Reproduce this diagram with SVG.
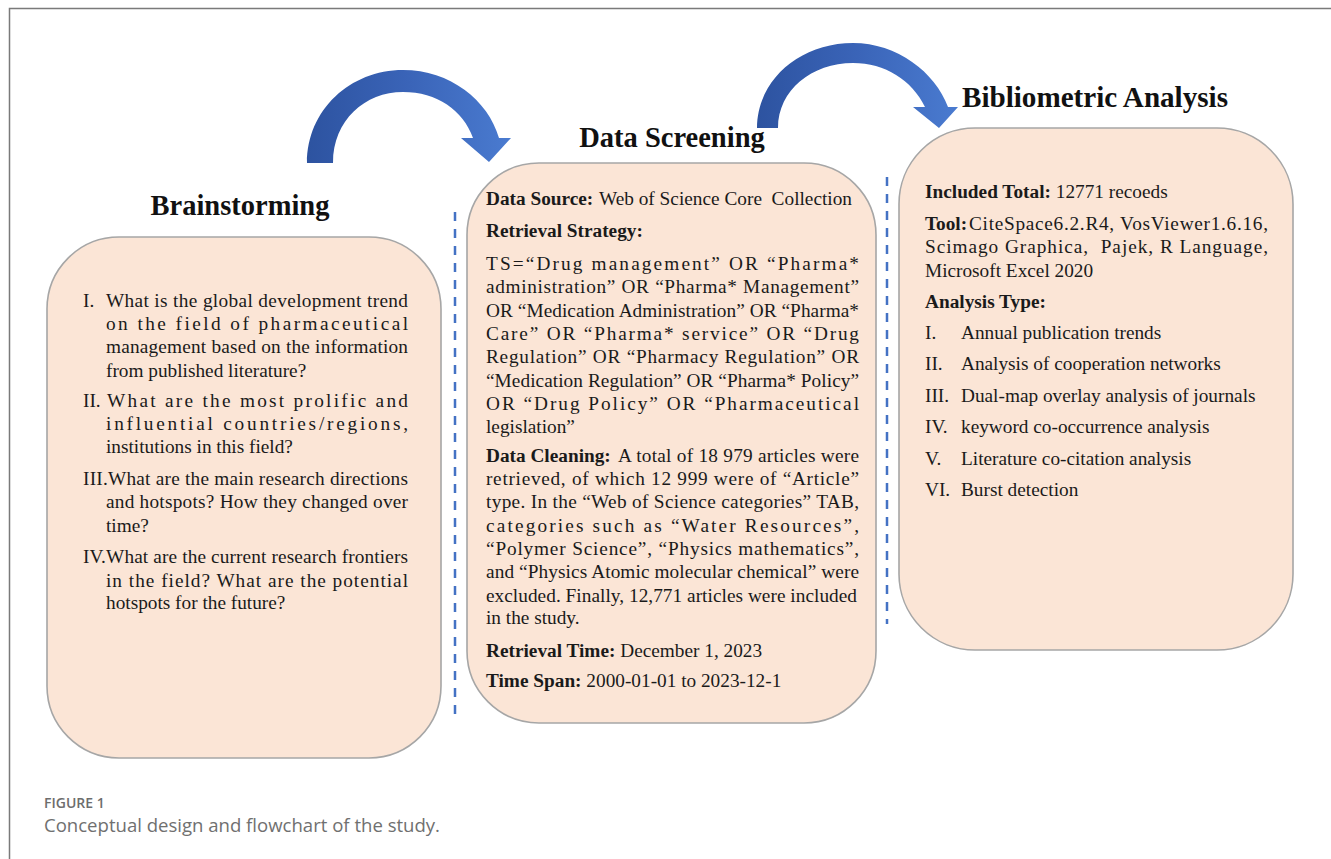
<svg xmlns="http://www.w3.org/2000/svg" width="1331" height="859" viewBox="0 0 1331 859">
<style>
.box{fill:#fbe5d6;stroke:#a6a6a6;stroke-width:1.6}
.title{font-family:"Liberation Serif","Times New Roman",serif;font-weight:bold;font-size:28.5px;fill:#111}
.t{font-family:"Liberation Serif","Times New Roman",serif;font-size:19.3px;fill:#1a1a1a}
.b{font-weight:bold}
.dash{stroke:#4472c4;stroke-width:2.5;stroke-dasharray:9 8;fill:none}
.cap1{font-family:"Open Sans","Liberation Sans",sans-serif;font-size:14px;font-weight:600;fill:#6d6d6d}
.cap2{font-family:"Open Sans","Liberation Sans",sans-serif;font-size:18px;fill:#707070}
</style>
<defs>
<linearGradient id="ag" x1="0" y1="0" x2="1" y2="0">
<stop offset="0" stop-color="#2d53a0"/>
<stop offset="0.5" stop-color="#3a64b8"/>
<stop offset="1" stop-color="#4a7bd0"/>
</linearGradient>
</defs>
<rect width="1331" height="859" fill="#ffffff"/>
<path d="M9.5,859 V8.5 H1331" fill="none" stroke="#7a7a7a" stroke-width="1.5"/>

<g id="connectors">
<path d="M307,163 C307,110 350,70 403,70 C450,70 488,100 499,138 L511,138 L489,162 L461,138 L473,138 C463,110 437,92 403,92 C365,92 333,120 333,163 Z" fill="url(#ag)"/>
<path d="M757,128 C757,80 800,43 853,43 C897,43 935,72 948,107 L958,107 L939,128 L913,107 L925,107 C912,80 885,63 853,63 C812,63 778,90 778,128 Z" fill="url(#ag)"/>
<line class="dash" x1="455" y1="212" x2="455" y2="722"/>
<line class="dash" x1="887" y1="177" x2="887" y2="624"/>
</g>

<g id="brainstorming">
<rect class="box" x="47" y="237" width="394" height="521" rx="72" ry="72"/>
<text class="title" x="240" y="215" text-anchor="middle">Brainstorming</text>
<text class="t" x="83" y="307">I.</text>
<text class="t" x="106" y="307" textLength="302" lengthAdjust="spacing">What is the global development trend</text>
<text class="t" x="106" y="330" textLength="302" lengthAdjust="spacing">on the field of pharmaceutical</text>
<text class="t" x="106" y="353" textLength="302" lengthAdjust="spacing">management based on the information</text>
<text class="t" x="106" y="377">from published literature?</text>
<text class="t" x="83" y="407">II.</text>
<text class="t" x="107" y="407" textLength="301" lengthAdjust="spacing">What are the most prolific and</text>
<text class="t" x="106" y="430" textLength="302" lengthAdjust="spacing">influential countries/regions,</text>
<text class="t" x="106" y="453">institutions in this field?</text>
<text class="t" x="83" y="485" textLength="325" lengthAdjust="spacing">III.What are the main research directions</text>
<text class="t" x="106" y="508" textLength="302" lengthAdjust="spacing">and hotspots? How they changed over</text>
<text class="t" x="106" y="532">time?</text>
<text class="t" x="83" y="563" textLength="325" lengthAdjust="spacing">IV.What are the current research frontiers</text>
<text class="t" x="106" y="587" textLength="302" lengthAdjust="spacing">in the field? What are the potential</text>
<text class="t" x="106" y="609">hotspots for the future?</text>
</g>

<g id="data-screening">
<rect class="box" x="467" y="163" width="409" height="560" rx="72" ry="72"/>
<text class="title" x="672" y="147" text-anchor="middle">Data Screening</text>
<text class="t b" x="486" y="205">Data Source:</text>
<text class="t" x="599" y="205" xml:space="preserve" textLength="253" lengthAdjust="spacing">Web of Science Core  Collection</text>
<text class="t b" x="486" y="237">Retrieval Strategy:</text>
<text class="t" x="486" y="270" textLength="373" lengthAdjust="spacing">TS=“Drug management” OR “Pharma*</text>
<text class="t" x="486" y="293" textLength="373" lengthAdjust="spacing">administration” OR “Pharma* Management”</text>
<text class="t" x="486" y="317" textLength="373" lengthAdjust="spacing">OR “Medication Administration” OR “Pharma*</text>
<text class="t" x="486" y="340" textLength="373" lengthAdjust="spacing">Care” OR “Pharma* service” OR “Drug</text>
<text class="t" x="486" y="363" textLength="373" lengthAdjust="spacing">Regulation” OR “Pharmacy Regulation” OR</text>
<text class="t" x="486" y="387" textLength="373" lengthAdjust="spacing">“Medication Regulation” OR “Pharma* Policy”</text>
<text class="t" x="486" y="410" textLength="373" lengthAdjust="spacing">OR “Drug Policy” OR “Pharmaceutical</text>
<text class="t" x="486" y="433">legislation”</text>
<text class="t b" x="486" y="462">Data Cleaning:</text>
<text class="t" x="618" y="462" textLength="241" lengthAdjust="spacing">A total of 18 979 articles were</text>
<text class="t" x="486" y="485" textLength="373" lengthAdjust="spacing">retrieved, of which 12 999 were of “Article”</text>
<text class="t" x="486" y="508" textLength="373" lengthAdjust="spacing">type. In the “Web of Science categories” TAB,</text>
<text class="t" x="486" y="532" textLength="373" lengthAdjust="spacing">categories such as “Water Resources”,</text>
<text class="t" x="486" y="555" textLength="373" lengthAdjust="spacing">“Polymer Science”, “Physics mathematics”,</text>
<text class="t" x="486" y="578" textLength="373" lengthAdjust="spacing">and “Physics Atomic molecular chemical” were</text>
<text class="t" x="486" y="602" textLength="371" lengthAdjust="spacing">excluded. Finally, 12,771 articles were included</text>
<text class="t" x="486" y="624">in the study.</text>
<text class="t" x="486" y="657"><tspan class="b">Retrieval Time:</tspan> December 1, 2023</text>
<text class="t" x="486" y="687"><tspan class="b">Time Span:</tspan> 2000-01-01 to 2023-12-1</text>
</g>

<g id="bibliometric-analysis">
<rect class="box" x="899" y="128" width="394" height="522" rx="76" ry="76"/>
<text class="title" x="962" y="107" textLength="266" lengthAdjust="spacingAndGlyphs">Bibliometric Analysis</text>
<text class="t" x="925" y="198"><tspan class="b">Included Total:</tspan> 12771 recoeds</text>
<text class="t b" x="925" y="230">Tool:</text>
<text class="t" x="969" y="230" textLength="299" lengthAdjust="spacing">CiteSpace6.2.R4, VosViewer1.6.16,</text>
<text class="t" x="925" y="253" xml:space="preserve" textLength="343" lengthAdjust="spacing">Scimago Graphica,  Pajek, R Language,</text>
<text class="t" x="925" y="277">Microsoft Excel 2020</text>
<text class="t b" x="925" y="308">Analysis Type:</text>
<text class="t" x="925" y="339">I.</text><text class="t" x="961" y="339">Annual publication trends</text>
<text class="t" x="925" y="370">II.</text><text class="t" x="961" y="370">Analysis of cooperation networks</text>
<text class="t" x="925" y="402">III.</text><text class="t" x="961" y="402">Dual-map overlay analysis of journals</text>
<text class="t" x="925" y="433">IV.</text><text class="t" x="961" y="433">keyword co-occurrence analysis</text>
<text class="t" x="925" y="465">V.</text><text class="t" x="961" y="465">Literature co-citation analysis</text>
<text class="t" x="925" y="496">VI.</text><text class="t" x="961" y="496">Burst detection</text>
</g>

<g id="caption">
<text class="cap1" x="44" y="808">FIGURE 1</text>
<text class="cap2" x="44" y="832" textLength="396" lengthAdjust="spacingAndGlyphs">Conceptual design and flowchart of the study.</text>
</g>
</svg>
